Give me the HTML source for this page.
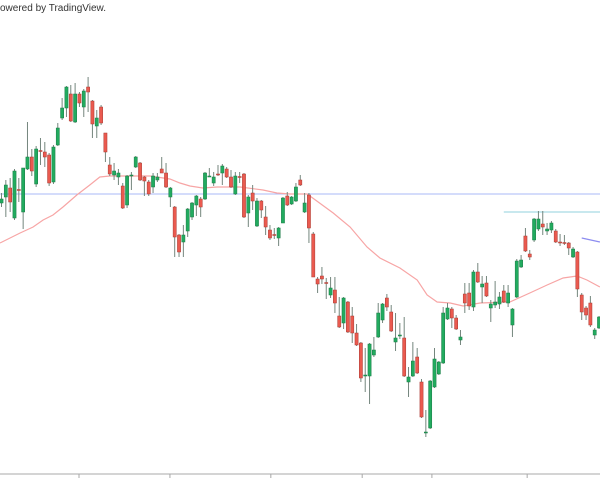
<!DOCTYPE html>
<html><head><meta charset="utf-8"><style>
html,body{margin:0;padding:0;background:#fff;width:600px;height:491px;overflow:hidden}
#credit{position:absolute;left:0;top:3px;font:10px "Liberation Sans",sans-serif;color:#333}
svg{position:absolute;left:0;top:0}
</style></head><body>
<div id="credit">owered by TradingView.</div>
<svg id="chart" width="600" height="491"></svg>
<script>
const opens=[297,303,312,282,310.5,288,331,343,316,349.5,348,345,318,355,382,392,406,378,406,393,413,399,374,393,367,335,325,323,314,295,324,333,337,323,318,313,320,331,327,303,293,265,258,269,283,295,301,301,323.5,317,326,327,331,323,306,323.5,326,287,307,274,299,283,270,265.5,262,277,304,296,299,320,288,305,266,221,224,217.5,205,210,184,177,198,184,167,157,124.5,124,145,163,180,202,188,158,164.5,162,118,124,143,118,67.5,72,113,126,137,181,191,182,160,206,207,193,228,213,217,192,195,196,209,197,175,203,233,264,246,260,271,276,269,270,269,258,257.5,257,243,248,205,192,197,165,172];
const highs=[307,320,322,331,322,332,378,351,354,362,358,347,355,377,402,414,415,417,408,411,423,400,390,395,367,343,337,331,317,325,328,344,338,324,320,327,327,343,337,313,294,266,275,292,298,305,303,328,332,328,335,336,333,330,328,328,327,305,315,302,300,294,275,272,273,303,308,304,317,325,307,307,268,223,233,222,223,223,203,203,199,193,176,158,152,157,163,197,197,206,195,187,177,183,133,158,152,121,90,120,152,139,193,197,193,185,170,217,217,230,237,224,224,200,219,208,215,215,192,241,245,272,250,282,289,289,277,279,271,266,265,258,253,249,207,194,204,172,184];
const lows=[293,283,288,280,298,271,330,324,313,335,333,314,316,354,380,383,378,377,393,383,388,362,362,375,338,324,320,315,291,292,310,332,319,304,304,307,318,327,312,293,243,243,243,263,280,284,283,300,323,314,324,315,322,312,305,317,282,273,290,273,282,265,260,261,254,277,294,295,298,314,287,257,223,207,216,201,202,187,172,171,167,157,154,118,108,96,143,162,177,189,168,149,161,123,103,123,126,82,63,71,112,125,136,180,172,170,155,187,190,189,217,197,203,178,192,191,197,193,163,202,232,248,240,258,269,265,265,267,257,254,255,245,242,203,180,180,173,161,171];
const closes=[301,315,298,329,310,332,343,329,351,349,343,317,353,372,392,413,379,406,397,409,408,376,382,377,348,326,329,327,292,324,325,343,320,319,306,324,323,327,313,312,263,248,265,291,297,304,293,327,324,323,325,334,323,313,324,323,283,303,299,299,290,273,262,265,272,302,295,303,313,315,297,272,223,216,221,217,212,197,173,202,168,167,155,122,125,156,150,187,196,193,169,162,165,124,123,139,127,83,68,119,141,138,187,192,182,171,163,197,194,228,218,216,204,196,198,203,198,207,191,239,240,249,243,281,281,273,271,277,258,257,257,252,251,211,188,185,175,170,183];
const maIdx=[0.65,5.3,8.3,10.6,12.9,15.2,18.4,21.4,23.7,26,35.3,39.9,42.2,44.5,47.5,50.8,56.1,61.4,64.6,67.6,71.6,77.6,81.5,85.4,88.4,93,97,99.3,101.6,104.6,107.6,111.5,118.4,123,127,130.7,133.9,136.2,139.2];
const maVal=[257,267,273,280,285,293,305,315,323,324,324,321,317,314,312,313,313,310,307,306,306,287,273,253,242,232,220,205,198,197,194,197,198,207,215,222,224,220,213];
const tickIdx=[18.9,39.9,63.2,84.3,100.4,122.4];
const levelBlue=306, levelCyan=288, cyanStart=117;
const trendIdx=[135,139.2], trendVal=[262,258];

const NS='http://www.w3.org/2000/svg';
const svg=document.getElementById('chart');
const xS=i=>1.5+4.33*(i-1);
const yS=p=>500-p;
function mk(t,a){const e=document.createElementNS(NS,t);for(const k in a)e.setAttribute(k,a[k]);svg.appendChild(e);return e;}

let l=mk('line',{x1:0,x2:600,y1:yS(levelBlue),y2:yS(levelBlue),stroke:'#a9b9f7','stroke-width':1});


l=mk('line',{x1:xS(cyanStart),x2:600,y1:yS(levelCyan),y2:yS(levelCyan),stroke:'#b5e0e8','stroke-width':1.5});


l=mk('line',{x1:xS(trendIdx[0]),x2:xS(trendIdx[1]),y1:yS(trendVal[0]),y2:yS(trendVal[1]),stroke:'#8c8cf0','stroke-width':1.2});



let d=maIdx.map((v,i)=>(i?'L':'M')+xS(v).toFixed(1)+' '+yS(maVal[i]).toFixed(1)).join(' ');
l=mk('path',{d:d,fill:'none',stroke:'#f7a5a5','stroke-width':1.2});



for(let i=0;i<opens.length;i++){
  const x=xS(i+1), up=closes[i]>=opens[i];
  const w=mk('line',{x1:x,x2:x,y1:yS(highs[i]),y2:yS(lows[i]),stroke:'#74867d','stroke-width':1});
  
  
  const top=yS(Math.max(opens[i],closes[i])), h=Math.max(1,Math.abs(opens[i]-closes[i]));
  const b=mk('rect',{x:x-1.6,y:top,width:3.2,height:h,fill:up?'#22ab5f':'#ea5a4f',stroke:up?'#1a7a45':'#a83a33','stroke-width':0.5});
  
  
}

l=mk('line',{x1:0,x2:600,y1:474,y2:474,stroke:'#a8a8a8','stroke-width':1});


tickIdx.forEach(t=>{
  const k=mk('line',{x1:xS(t),x2:xS(t),y1:474,y2:478,stroke:'#a8a8a8','stroke-width':1});
  
  
});
</script>
</body></html>
